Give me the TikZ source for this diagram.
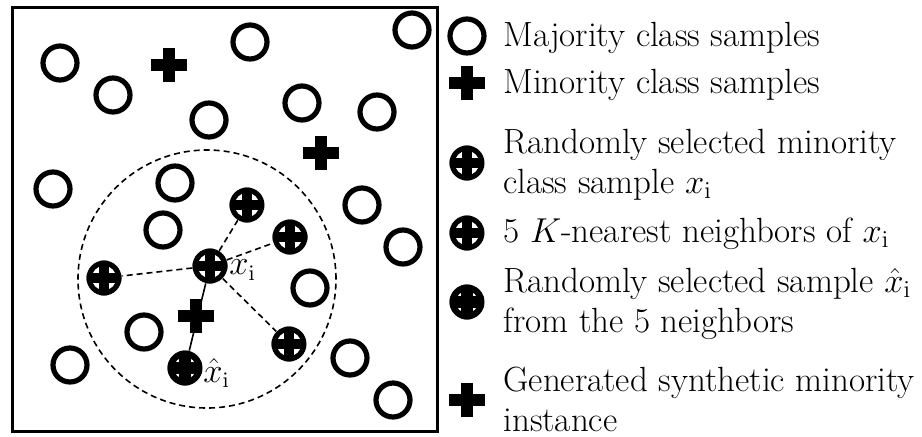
\documentclass[tikz,border=0pt]{standalone}
\usepackage{amsmath}
\usepackage{tikz}

\tikzset{
	majority/.style={shape=circle, draw=black, line width=2.6pt, minimum size=17pt, inner sep=0pt},
	minority/.style={shape=rectangle, minimum size=18pt, inner sep=0pt, path picture={
		\fill[black] (path picture bounding box.center) +(-8.8pt,-2.9pt) rectangle +(8.8pt,2.9pt);
		\fill[black] (path picture bounding box.center) +(-2.9pt,-8.3pt) rectangle +(2.9pt,8.3pt);}},
	neighbor/.style={shape=circle, fill=black, minimum size=17.5pt, inner sep=0pt, path picture={
		\fill[white] (path picture bounding box.center) circle (6.1pt);
		\fill[black] (path picture bounding box.center) +(-9pt,-2.6pt) rectangle +(9pt,2.6pt);
		\fill[black] (path picture bounding box.center) +(-2.6pt,-9pt) rectangle +(2.6pt,9pt);}},
	picked/.style={neighbor, path picture={
		\fill[white] (path picture bounding box.center) circle (5.5pt);
		\fill[black] (path picture bounding box.center) +(-9pt,-2.9pt) rectangle +(9pt,2.9pt);
		\fill[black] (path picture bounding box.center) +(-2.9pt,-9pt) rectangle +(2.9pt,9pt);}},
	legend/.style={anchor=west, align=left, inner sep=0pt, font=\fontsize{17.5}{20}\selectfont},
	link/.style={dashed, dash pattern=on 3pt off 2pt, line width=0.8pt}
}

\begin{document}
\begin{tikzpicture}[x=0.5pt, y=-0.5pt]

	\useasboundingbox (0, 0) rectangle (922, 436);
	\draw[line width=1.5pt] (12, 7) rectangle (437, 431);

	% neighbourhood of x_i
	\draw[link] (207, 279) circle (64.5pt);

	\node[majority] (m1)  at (60, 63)   {};
	\node[majority] (m2)  at (113, 95)  {};
	\node[majority] (m3)  at (250, 42)  {};
	\node[majority] (m4)  at (412, 30)  {};
	\node[majority] (m5)  at (209, 120) {};
	\node[majority] (m6)  at (302, 103) {};
	\node[majority] (m7)  at (377, 112) {};
	\node[majority] (m8)  at (53, 189)  {};
	\node[majority] (m9)  at (175, 183) {};
	\node[majority] (m10) at (362, 205) {};
	\node[majority] (m11) at (163, 230) {};
	\node[majority] (m12) at (403, 247) {};
	\node[majority] (m13) at (310, 288) {};
	\node[majority] (m14) at (144, 332) {};
	\node[majority] (m15) at (70, 365)  {};
	\node[majority] (m16) at (350, 358) {};
	\node[majority] (m17) at (393, 400) {};

	\node[minority] (p1) at (169, 65)  {};
	\node[minority] (p2) at (321, 153) {};

	\node[neighbor] (xi) at (210, 266) {};
	\node[neighbor] (n1) at (247, 205) {};
	\node[neighbor] (n2) at (290, 237) {};
	\node[neighbor] (n3) at (104, 278) {};
	\node[neighbor] (n4) at (289, 344) {};
	\node[picked]   (xh) at (185, 368) {};

	\node[anchor=west, inner sep=0pt, font=\fontsize{16}{19}\selectfont] (lxi) at (229, 270) {$x_{\mathrm{i}}$};
	\node[anchor=west, inner sep=0pt, font=\fontsize{16}{19}\selectfont] (lxh) at (203, 373) {$\hat{x}_{\mathrm{i}}$};

	\path[link] (xi) edge (n1);
	\path[link] (xi) edge (n2);
	\path[link] (xi) edge (n3);
	\path[link] (xi) edge (n4);
	\path[line width=0.8pt] (xi) edge (xh);

	\node[minority] (syn) at (196, 316) {};

	% legend
	\node[majority] (k1) at (467, 36)  {};
	\node[minority] (k2) at (467, 83)  {};
	\node[neighbor] (k3) at (467, 163) {};
	\node[neighbor] (k4) at (467, 233) {};
	\node[picked]   (k5) at (467, 302) {};
	\node[minority] (k6) at (467, 400) {};

	\node[legend] (t1) at (503, 38)  {Majority class samples};
	\node[legend] (t2) at (503, 85)  {Minority class samples};
	\node[legend] (t3) at (503, 165) {Randomly selected minority\\class sample $x_{\mathrm{i}}$};
	\node[legend] (t4) at (503, 234) {5 $K$-nearest neighbors of $x_{\mathrm{i}}$};
	\node[legend] (t5) at (503, 304) {Randomly selected sample $\hat{x}_{\mathrm{i}}$\\from the 5 neighbors};
	\node[legend] (t6) at (503, 399) {Generated synthetic minority\\instance};

\end{tikzpicture}
\end{document}
